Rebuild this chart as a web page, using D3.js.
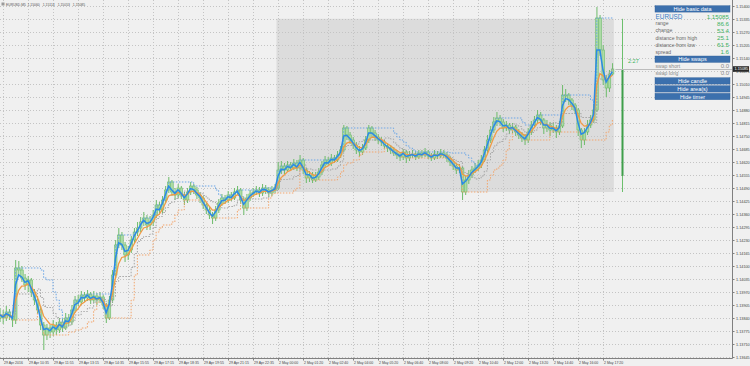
<!DOCTYPE html>
<html>
<head>
<meta charset="utf-8">
<script src="https://cdn.jsdelivr.net/npm/d3@7"></script>
<style>
  html, body { margin: 0; padding: 0; background: #f0f0f0; }
  svg { display: block; font-family: "Liberation Sans", Arial, sans-serif; }
</style>
</head>
<body>
<div id="chart"></div>
<script>
// Header of the chart window
const symbol = "EURUSD,M5";
const lastBarOHLC = [1.15060, 1.15114, 1.15053, 1.15085];

// Price axis labels
const priceTicks = [1.15400, 1.15335, 1.15270, 1.15205, 1.15140, 1.15075, 1.15010, 1.14945,
  1.14880, 1.14815, 1.14750, 1.14685, 1.14620, 1.14555, 1.14490, 1.14425, 1.14360, 1.14295,
  1.14230, 1.14165, 1.14100, 1.14035, 1.13970, 1.13905, 1.13840, 1.13775, 1.13710, 1.13645];

// Time axis labels (one every 8 bars)
const timeLabels = ["29 Apr 2016", "29 Apr 10:35", "29 Apr 11:55", "29 Apr 13:15", "29 Apr 14:35",
  "29 Apr 15:55", "29 Apr 17:15", "29 Apr 18:35", "29 Apr 19:55", "29 Apr 21:15", "29 Apr 22:35",
  "2 May 00:00", "2 May 01:20", "2 May 02:40", "2 May 04:00", "2 May 05:20", "2 May 06:40",
  "2 May 08:00", "2 May 09:20", "2 May 10:40", "2 May 12:00", "2 May 13:20", "2 May 14:40",
  "2 May 16:00", "2 May 17:20"];

// Bars (open = previous close)
const firstOpen = 1.13840;
const closes = [
  1.13855, 1.13840, 1.13870, 1.13850, 1.13830, 1.14090, 1.14080, 1.14040, 1.14005, 1.14030,
  1.13970, 1.13930, 1.13880, 1.13805, 1.13755, 1.13790, 1.13770, 1.13805, 1.13780, 1.13820,
  1.13790, 1.13840, 1.13820, 1.13880, 1.13930, 1.13920, 1.13955, 1.13940, 1.13960, 1.13930,
  1.13950, 1.13930, 1.13945, 1.13905, 1.13840, 1.13930, 1.14055, 1.14205, 1.14255, 1.14205,
  1.14155, 1.14180, 1.14230, 1.14270, 1.14290, 1.14320, 1.14340, 1.14305, 1.14320, 1.14355,
  1.14405, 1.14380, 1.14430, 1.14480, 1.14520, 1.14470, 1.14455, 1.14490, 1.14455, 1.14430,
  1.14470, 1.14500, 1.14480, 1.14455, 1.14440, 1.14405, 1.14380, 1.14355, 1.14340, 1.14380,
  1.14415, 1.14440, 1.14430, 1.14455, 1.14440, 1.14470, 1.14480, 1.14430, 1.14390, 1.14440,
  1.14460, 1.14470, 1.14480, 1.14465, 1.14490, 1.14480, 1.14465, 1.14480, 1.14490, 1.14580,
  1.14600, 1.14580, 1.14605, 1.14590, 1.14615, 1.14590, 1.14630, 1.14580, 1.14540, 1.14555,
  1.14530, 1.14545, 1.14570, 1.14605, 1.14630, 1.14615, 1.14640, 1.14630, 1.14655, 1.14680,
  1.14790, 1.14755, 1.14730, 1.14705, 1.14680, 1.14670, 1.14690, 1.14730, 1.14790, 1.14765,
  1.14745, 1.14730, 1.14720, 1.14700, 1.14690, 1.14680, 1.14665, 1.14655, 1.14645, 1.14670,
  1.14640, 1.14655, 1.14660, 1.14645, 1.14665, 1.14655, 1.14670, 1.14650, 1.14640, 1.14660,
  1.14650, 1.14665, 1.14655, 1.14640, 1.14620, 1.14600, 1.14580, 1.14590, 1.14470, 1.14530,
  1.14555, 1.14580, 1.14590, 1.14605, 1.14630, 1.14680, 1.14730, 1.14780, 1.14820, 1.14840,
  1.14820, 1.14790, 1.14805, 1.14780, 1.14795, 1.14770, 1.14755, 1.14740, 1.14730, 1.14770,
  1.14805, 1.14830, 1.14855, 1.14830, 1.14790, 1.14805, 1.14780, 1.14790, 1.14770, 1.14800,
  1.14955, 1.14955, 1.14930, 1.14905, 1.14880, 1.14780, 1.14730, 1.14770, 1.14805, 1.14830,
  1.14880, 1.15340, 1.15180, 1.15030, 1.14990, 1.15060, 1.15085];
const highs = [
  1.13890, 1.13880, 1.13900, 1.13885, 1.13870, 1.14130, 1.14125, 1.14100, 1.14060, 1.14050,
  1.14040, 1.13985, 1.13950, 1.13900, 1.13820, 1.13810, 1.13805, 1.13830, 1.13820, 1.13840,
  1.13835, 1.13865, 1.13860, 1.13905, 1.13950, 1.13955, 1.13975, 1.13970, 1.13980, 1.13970,
  1.13975, 1.13965, 1.13970, 1.13955, 1.13915, 1.13950, 1.14080, 1.14230, 1.14290, 1.14270,
  1.14220, 1.14200, 1.14250, 1.14290, 1.14320, 1.14345, 1.14370, 1.14355, 1.14350, 1.14380,
  1.14430, 1.14420, 1.14450, 1.14500, 1.14545, 1.14530, 1.14490, 1.14510, 1.14500, 1.14470,
  1.14490, 1.14520, 1.14510, 1.14495, 1.14470, 1.14450, 1.14420, 1.14395, 1.14370, 1.14400,
  1.14435, 1.14460, 1.14455, 1.14475, 1.14470, 1.14490, 1.14500, 1.14490, 1.14445, 1.14460,
  1.14480, 1.14490, 1.14500, 1.14495, 1.14510, 1.14505, 1.14495, 1.14500, 1.14510, 1.14620,
  1.14625, 1.14615, 1.14625, 1.14620, 1.14635, 1.14630, 1.14655, 1.14640, 1.14590, 1.14575,
  1.14570, 1.14570, 1.14590, 1.14625, 1.14650, 1.14645, 1.14660, 1.14655, 1.14675, 1.14700,
  1.14805, 1.14800, 1.14770, 1.14745, 1.14720, 1.14700, 1.14710, 1.14750, 1.14805, 1.14800,
  1.14780, 1.14760, 1.14745, 1.14730, 1.14715, 1.14705, 1.14695, 1.14680, 1.14670, 1.14685,
  1.14680, 1.14675, 1.14680, 1.14675, 1.14680, 1.14680, 1.14690, 1.14680, 1.14665, 1.14680,
  1.14675, 1.14685, 1.14680, 1.14670, 1.14650, 1.14630, 1.14615, 1.14610, 1.14600, 1.14550,
  1.14580, 1.14600, 1.14615, 1.14630, 1.14655, 1.14700, 1.14755, 1.14800, 1.14845, 1.14870,
  1.14855, 1.14835, 1.14825, 1.14815, 1.14815, 1.14805, 1.14785, 1.14770, 1.14760, 1.14790,
  1.14825, 1.14850, 1.14880, 1.14870, 1.14840, 1.14830, 1.14820, 1.14815, 1.14805, 1.14825,
  1.15005, 1.14985, 1.14965, 1.14940, 1.14915, 1.14890, 1.14790, 1.14790, 1.14830, 1.14855,
  1.14910, 1.15395, 1.15355, 1.15205, 1.15055, 1.15080, 1.15114];
const lows = [
  1.13820, 1.13810, 1.13825, 1.13830, 1.13795, 1.13810, 1.14050, 1.14020, 1.13980, 1.13970,
  1.13945, 1.13905, 1.13860, 1.13780, 1.13680, 1.13730, 1.13740, 1.13750, 1.13755, 1.13765,
  1.13770, 1.13780, 1.13800, 1.13805, 1.13865, 1.13900, 1.13905, 1.13920, 1.13925, 1.13910,
  1.13915, 1.13905, 1.13915, 1.13885, 1.13815, 1.13830, 1.13915, 1.14040, 1.14190, 1.14180,
  1.14120, 1.14130, 1.14165, 1.14210, 1.14250, 1.14270, 1.14300, 1.14280, 1.14280, 1.14300,
  1.14340, 1.14360, 1.14365, 1.14415, 1.14465, 1.14450, 1.14430, 1.14440, 1.14435, 1.14405,
  1.14415, 1.14455, 1.14460, 1.14435, 1.14415, 1.14385, 1.14360, 1.14335, 1.14310, 1.14325,
  1.14365, 1.14400, 1.14410, 1.14415, 1.14425, 1.14430, 1.14455, 1.14410, 1.14355, 1.14375,
  1.14425, 1.14445, 1.14455, 1.14445, 1.14450, 1.14460, 1.14445, 1.14450, 1.14465, 1.14480,
  1.14560, 1.14560, 1.14570, 1.14575, 1.14580, 1.14575, 1.14580, 1.14560, 1.14515, 1.14520,
  1.14515, 1.14520, 1.14530, 1.14555, 1.14590, 1.14600, 1.14600, 1.14615, 1.14620, 1.14640,
  1.14670, 1.14730, 1.14710, 1.14685, 1.14660, 1.14645, 1.14655, 1.14680, 1.14715, 1.14745,
  1.14725, 1.14710, 1.14700, 1.14685, 1.14670, 1.14660, 1.14650, 1.14635, 1.14625, 1.14630,
  1.14615, 1.14625, 1.14640, 1.14630, 1.14635, 1.14640, 1.14645, 1.14635, 1.14625, 1.14630,
  1.14635, 1.14640, 1.14640, 1.14620, 1.14600, 1.14580, 1.14560, 1.14565, 1.14430, 1.14455,
  1.14510, 1.14540, 1.14565, 1.14575, 1.14590, 1.14620, 1.14665, 1.14715, 1.14765, 1.14800,
  1.14800, 1.14770, 1.14775, 1.14760, 1.14765, 1.14750, 1.14735, 1.14720, 1.14705, 1.14715,
  1.14755, 1.14790, 1.14815, 1.14805, 1.14760, 1.14770, 1.14750, 1.14765, 1.14740, 1.14755,
  1.14790, 1.14920, 1.14905, 1.14880, 1.14860, 1.14750, 1.14690, 1.14705, 1.14755, 1.14790,
  1.14815, 1.14870, 1.15150, 1.15005, 1.14945, 1.14970, 1.15053];

// Day area (2 May) and current quote
const dayStartBar = 89;
const dayOpen = 1.14551, dayHigh = 1.15336, dayLow = 1.14470;
const bid = 1.15085;
const timerText = "2:27";

// Info panel
const panelSymbol = "EURUSD";
const panelPrice = "1.15085";
const basicData = [["range", "86.6"], ["change", "53.4"], ["distance from high", "25.1"],
  ["distance from low", "61.5"], ["spread", "1.6"]];
const swapData = [["swap short", "0.0"], ["swap long", "0.0"]];
const buttons = ["Hide basic data", "Hide swaps", "Hide candle", "Hide area(s)", "Hide timer"];

// Layout
const width = 750, height = 366;
const plotRight = 732.5, plotBottom = 358.5;

const svg = d3.select("#chart").append("svg")
  .attr("width", width).attr("height", height);

svg.append("rect").attr("width", width).attr("height", height).attr("fill", "#f0f0f0");

const x = d3.scaleLinear().domain([0, closes.length - 1]).range([-0.125, 612.375]);
const y = d3.scaleLinear().domain([1.13645, 1.15400]).range([357, 6]);
const px = v => Math.round(v) + 0.5;

const last = closes.length - 1;
const opens = closes.map((c, i) => i ? closes[i - 1] : firstOpen);
const tickBars = timeLabels.map((d, k) => 8 * k + 1);

// Day range area
svg.append("rect")
  .attr("x", x(dayStartBar) - 1.5)
  .attr("y", y(dayHigh))
  .attr("width", x(last) - x(dayStartBar) + 3)
  .attr("height", y(dayLow) - y(dayHigh))
  .attr("fill", "#dcdcdc");

// Grid
const grid = svg.append("g")
  .attr("stroke", "#c4c4c4")
  .attr("stroke-width", 1)
  .attr("stroke-dasharray", "1,2");
grid.selectAll(".hg").data(priceTicks).join("line")
  .attr("x1", 0).attr("x2", plotRight)
  .attr("y1", d => px(y(d))).attr("y2", d => px(y(d)));
grid.selectAll(".vg").data(tickBars).join("line")
  .attr("y1", 0).attr("y2", plotBottom)
  .attr("x1", d => px(x(d))).attr("x2", d => px(x(d)));

// Candles
const candles = svg.append("g");
candles.selectAll("line").data(closes).join("line")
  .attr("x1", (d, i) => x(i) + 0.2).attr("x2", (d, i) => x(i) + 0.2)
  .attr("y1", (d, i) => y(highs[i])).attr("y2", (d, i) => y(lows[i]))
  .attr("stroke", "#6dbb6a").attr("stroke-width", 1);
candles.selectAll("rect").data(closes).join("rect")
  .attr("x", (d, i) => x(i) - 1.1)
  .attr("width", 2.6)
  .attr("y", (d, i) => Math.min(y(opens[i]), y(d)))
  .attr("height", (d, i) => Math.max(1, Math.abs(y(opens[i]) - y(d))))
  .attr("fill", "#acdba5").attr("stroke", "#6dbb6a").attr("stroke-width", 0.6);

// Indicators
function ema(vals, n) {
  const a = 2 / (n + 1);
  let e = vals[0];
  return vals.map(v => (e = e + a * (v - e)));
}
function channel(vals, n, f) {
  return vals.map((v, i) => f(vals.slice(Math.max(0, i - n + 1), i + 1)));
}
const upper = channel(closes, 8, d3.max);
const lower = channel(closes, 8, d3.min);
const middle = upper.map((u, i) => (u + lower[i]) / 2);

const stepLine = d3.line().x((d, i) => x(i)).y(d => y(d)).curve(d3.curveStepAfter);
const smoothLine = d3.line().x((d, i) => x(i)).y(d => y(d));

[[upper, "#6aa5e6"], [lower, "#f2a56c"], [middle, "#a4a4a4"]].forEach(([vals, col]) => {
  svg.append("path").datum(vals)
    .attr("fill", "none").attr("stroke", col)
    .attr("stroke-width", 1).attr("stroke-dasharray", "1.5,1.5")
    .attr("d", stepLine);
});

svg.append("path").datum(ema(closes, 5))
  .attr("fill", "none").attr("stroke", "#f19a45").attr("stroke-width", 1.3)
  .attr("d", smoothLine);
svg.append("path").datum(ema(closes, 2))
  .attr("fill", "none").attr("stroke", "#2b8ae6").attr("stroke-width", 1.5)
  .attr("d", smoothLine);

// Day range marker and timer
const mx = px(x(last + 3));
svg.append("line")
  .attr("x1", mx).attr("x2", mx).attr("y1", y(dayHigh)).attr("y2", y(dayLow))
  .attr("stroke", "#6cbf6c").attr("stroke-width", 1);
svg.append("line")
  .attr("x1", mx).attr("x2", mx).attr("y1", y(bid)).attr("y2", y(dayOpen))
  .attr("stroke", "#3f9f4a").attr("stroke-width", 2);
svg.append("text")
  .attr("x", x(last + 5)).attr("y", y(bid) - 6.5)
  .attr("font-size", "5.5px").attr("fill", "#3cb35a")
  .text(timerText);

// Bid line
svg.append("line")
  .attr("x1", x(last) + 3).attr("x2", plotRight)
  .attr("y1", px(y(bid))).attr("y2", px(y(bid)))
  .attr("stroke", "#bcbcbc").attr("stroke-width", 1);

// Axes
const yAxis = svg.append("g")
  .attr("transform", `translate(${plotRight},0)`)
  .call(d3.axisRight(y).tickValues(priceTicks).tickFormat(d3.format(".5f")).tickSize(2).tickPadding(1.5));
const xAxis = svg.append("g")
  .attr("transform", `translate(0,${plotBottom})`)
  .call(d3.axisBottom(x).tickValues(tickBars).tickFormat((d, k) => timeLabels[k]).tickSize(2).tickPadding(1.5));
[yAxis, xAxis].forEach(g => {
  g.select(".domain").remove();
  g.selectAll(".tick line").attr("stroke", "#808080");
  g.selectAll(".tick text").attr("fill", "#444").attr("font-family", "Liberation Sans, Arial, sans-serif");
});
yAxis.selectAll(".tick text").attr("font-size", "3.8px");
xAxis.selectAll(".tick text").attr("font-size", "3.5px").attr("text-anchor", "start").attr("dx", "0.5");

svg.append("line").attr("x1", plotRight).attr("x2", plotRight).attr("y1", 0).attr("y2", plotBottom)
  .attr("stroke", "#808080");
svg.append("line").attr("x1", 0).attr("x2", plotRight).attr("y1", plotBottom).attr("y2", plotBottom)
  .attr("stroke", "#808080");

// Current price tag on the axis
svg.append("rect")
  .attr("x", plotRight + 0.5).attr("y", y(bid) - 2.8)
  .attr("width", 16).attr("height", 5.6).attr("fill", "#2a2a2a");
svg.append("text")
  .attr("x", plotRight + 2).attr("y", y(bid))
  .attr("dominant-baseline", "central")
  .attr("font-size", "3.8px").attr("fill", "#ffffff")
  .text(d3.format(".5f")(bid));

// Title
svg.append("rect").attr("x", 1.5).attr("y", 2.5).attr("width", 3).attr("height", 3)
  .attr("fill", "#9a9a9a");
svg.append("text").attr("x", 6).attr("y", 4.5).attr("dominant-baseline", "central")
  .attr("font-size", "3.4px").attr("fill", "#555").text(symbol);
svg.append("text").attr("x", 27.5).attr("y", 4.5).attr("dominant-baseline", "central")
  .attr("font-size", "3.4px").attr("fill", "#555").attr("word-spacing", "2px")
  .text(lastBarOHLC.map(d3.format(".5f")).join(" "));

// Info panel
const panel = svg.append("g");
const panelLeft = 655, panelRight = 730;
const buttonTops = [5.7, 56, 77.7, 85.7, 93.3];
buttons.forEach((label, k) => {
  panel.append("rect")
    .attr("x", panelLeft).attr("y", buttonTops[k])
    .attr("width", panelRight - panelLeft).attr("height", 6.4)
    .attr("fill", "#3c70ad").attr("stroke", "#2f5f98").attr("stroke-width", 0.4);
  panel.append("text")
    .attr("x", (panelLeft + panelRight) / 2).attr("y", buttonTops[k] + 3.3)
    .attr("text-anchor", "middle").attr("dominant-baseline", "central")
    .attr("font-size", "5.5px").attr("fill", "#ffffff")
    .text(label);
});

panel.append("text")
  .attr("x", panelLeft + 0.5).attr("y", 16)
  .attr("dominant-baseline", "central")
  .attr("font-size", "6.4px").attr("fill", "#3a7cc4")
  .text(panelSymbol);
panel.append("text")
  .attr("x", panelRight - 1).attr("y", 16)
  .attr("text-anchor", "end").attr("dominant-baseline", "central")
  .attr("font-size", "6.2px").attr("fill", "#40b060")
  .text(panelPrice);

basicData.forEach(([label, value], k) => {
  const ry = 23.4 + k * 7.05;
  panel.append("text")
    .attr("x", panelLeft + 0.5).attr("y", ry).attr("dominant-baseline", "central")
    .attr("font-size", "5.1px").attr("fill", "#666")
    .text(label);
  panel.append("text")
    .attr("x", panelRight - 1).attr("y", ry)
    .attr("text-anchor", "end").attr("dominant-baseline", "central")
    .attr("font-size", "6.2px").attr("fill", "#40b060")
    .text(value);
});

swapData.forEach(([label, value], k) => {
  const ry = 66.3 + k * 6.7;
  panel.append("text")
    .attr("x", panelLeft + 0.5).attr("y", ry).attr("dominant-baseline", "central")
    .attr("font-size", "5.1px").attr("fill", "#8a8a8a")
    .text(label);
  panel.append("text")
    .attr("x", panelRight - 1).attr("y", ry)
    .attr("text-anchor", "end").attr("dominant-baseline", "central")
    .attr("font-size", "6px").attr("fill", "#8a8a8a")
    .text(value);
});
</script>
</body>
</html>
